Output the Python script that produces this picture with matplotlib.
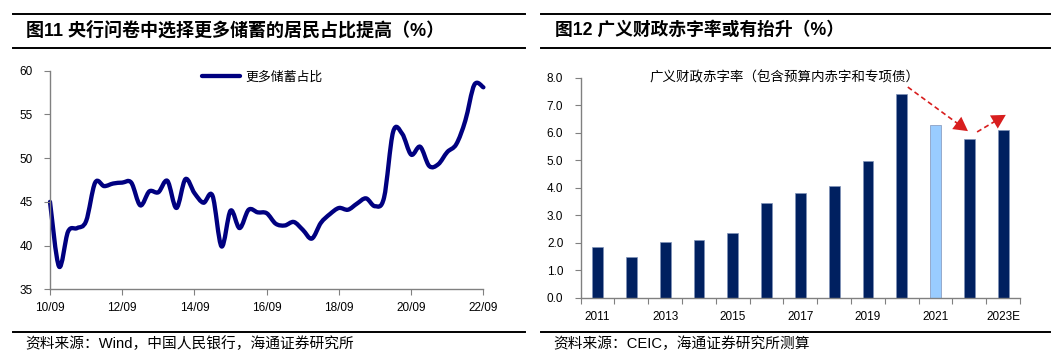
import matplotlib
matplotlib.use("Agg")
import matplotlib.pyplot as plt
import numpy as np
from matplotlib.path import Path
from matplotlib.patches import PathPatch
from matplotlib.lines import Line2D

plt.rcParams['font.family'] = ['Liberation Sans', 'Noto Sans CJK SC', 'DejaVu Sans']

# ---- data: left chart (quarterly, 2010Q3 .. 2022Q3) ----
savings_share = [45.0, 37.6, 41.6, 42.0, 42.8, 47.2, 46.8, 47.1, 47.2, 47.2,
                 44.6, 46.2, 46.1, 47.4, 44.3, 47.6, 46.0, 44.9, 45.7, 39.9,
                 44.0, 42.0, 44.1, 43.8, 43.7, 42.5, 42.3, 42.7, 41.8, 40.8,
                 42.6, 43.6, 44.3, 44.1, 44.8, 45.4, 44.5, 45.5, 53.0, 52.8,
                 50.4, 51.3, 49.1, 49.3, 50.7, 51.6, 54.3, 58.4, 58.1]
left_ticklabels = ['10/09', '12/09', '14/09', '16/09', '18/09', '20/09', '22/09']
left_legend = '更多储蓄占比'

# ---- data: right chart ----
years = ['2011', '2012', '2013', '2014', '2015', '2016', '2017', '2018',
         '2019', '2020', '2021', '2022', '2023E']
deficit = [1.85, 1.48, 2.02, 2.10, 2.35, 3.45, 3.80, 4.05, 4.97, 7.40, 6.30, 5.77, 6.10]
right_note = '广义财政赤字率（包含预算内赤字和专项债）'
# trend arrows (start -> end) in category / value units
arrows = [((9.18, 7.66), (10.96, 6.06)),
          ((11.23, 6.03), (12.08, 6.65))]

W, H = 1060, 361
fig = plt.figure(figsize=(W / 100, H / 100), dpi=100)


def px_axes(x0, y0, x1, y1):
    # pixel box (top-left origin) -> figure axes
    return fig.add_axes([x0 / W, 1 - y1 / H, (x1 - x0) / W, (y1 - y0) / H])


def hline(x0, x1, y):
    fig.add_artist(Line2D([x0 / W, x1 / W], [1 - y / H, 1 - y / H],
                          transform=fig.transFigure, color='black', lw=1.4))


def smooth_path(xs, ys):
    # Excel-style smoothed line: Catmull-Rom segments as cubic Beziers
    pts = np.column_stack([xs, ys]).astype(float)
    n = len(pts)
    verts = [pts[0]]
    codes = [Path.MOVETO]
    for i in range(n - 1):
        p0 = pts[max(i - 1, 0)]
        p1 = pts[i]
        p2 = pts[i + 1]
        p3 = pts[min(i + 2, n - 1)]
        verts += [p1 + (p2 - p0) / 6, p2 - (p3 - p1) / 6, p2]
        codes += [Path.CURVE4] * 3
    return Path(verts, codes)


gray = '#808080'
navy = '#000080'
red = '#D81E1E'

# ---- headers / footers ----
for x0, x1 in [(13, 525), (541, 1050)]:
    hline(x0, x1, 13.7)
    hline(x0, x1, 47.7)
    hline(x0, x1, 331.7)

fig.text(26 / W, 1 - 30 / H, '图11 央行问卷中选择更多储蓄的居民占比提高（%）',
         fontsize=13, fontweight='bold', va='center', ha='left')
fig.text(555 / W, 1 - 30 / H, '图12 广义财政赤字率或有抬升（%）',
         fontsize=12.8, fontweight='bold', va='center', ha='left')
fig.text(25 / W, 1 - 344 / H, '资料来源：Wind，中国人民银行，海通证券研究所',
         fontsize=10.6, va='center', ha='left')
fig.text(553 / W, 1 - 344 / H, '资料来源：CEIC，海通证券研究所测算',
         fontsize=10.6, va='center', ha='left')

# ---- left chart ----
ax1 = px_axes(50, 70.7, 483.4, 289.3)
xq = np.arange(len(savings_share))
patch = PathPatch(smooth_path(xq, savings_share), fill=False, edgecolor=navy,
                  lw=3.1, capstyle='round', joinstyle='round', clip_on=False)
ax1.add_patch(patch)
ax1.set_xlim(0, len(savings_share) - 1)
ax1.set_ylim(35, 60)
ax1.set_yticks(range(35, 61, 5))
ax1.set_xticks(range(0, len(savings_share), 8))
ax1.set_xticklabels(left_ticklabels)
for s in ['top', 'right']:
    ax1.spines[s].set_visible(False)
for s in ['left', 'bottom']:
    ax1.spines[s].set_color(gray)
    ax1.spines[s].set_linewidth(1.0)
ax1.tick_params(axis='y', direction='out', length=4, color=gray, pad=8.5, labelsize=8.5)
ax1.tick_params(axis='x', direction='out', length=4, color=gray, pad=5.5, labelsize=8.5)
handle = Line2D([], [], color=navy, lw=3.1, solid_capstyle='round')
ax1.legend([handle], [left_legend], loc='center left',
           bbox_to_anchor=((201.7 - 50) / 433.4, 1 - 6.6 / 218.6),
           frameon=False, borderpad=0, borderaxespad=0, handlelength=2.95,
           handletextpad=0.4, fontsize=9.3)

# ---- right chart ----
ax2 = px_axes(580.7, 77.7, 1020, 298)
xc = np.arange(len(years))
colors = ['#002060'] * len(years)
colors[years.index('2021')] = '#99CCFF'
ax2.bar(xc, deficit, width=0.32, color=colors, edgecolor='#7F93B8', linewidth=0.5)
ax2.set_xlim(-0.5, len(years) - 0.5)
ax2.set_ylim(0, 8)
ax2.set_yticks(np.arange(0, 8.1, 1))
ax2.set_yticklabels([f'{v:.1f}' for v in np.arange(0, 8.1, 1)])
ax2.set_xticks(np.arange(-0.5, len(years), 1))
ax2.set_xticklabels([])
ax2.set_xticks(xc, minor=True)
ax2.set_xticklabels([y if i % 2 == 0 else '' for i, y in enumerate(years)], minor=True)
for s in ['top', 'right']:
    ax2.spines[s].set_visible(False)
for s in ['left', 'bottom']:
    ax2.spines[s].set_color(gray)
    ax2.spines[s].set_linewidth(1.0)
ax2.tick_params(axis='y', direction='out', length=4, color=gray, pad=8.5, labelsize=8.5)
ax2.tick_params(axis='x', which='major', direction='out', length=4, color=gray)
ax2.tick_params(axis='x', which='minor', length=0, pad=9, labelsize=8.5)

ax2.text(5.54, 8.0, right_note, fontsize=9.7, ha='center', va='center')
for (x0, y0), (x1, y1) in arrows:
    # dashed shaft (stops short of the tip), then a filled solid head
    ax2.plot([x0, x1 - 0.15 * (x1 - x0)], [y0, y1 - 0.15 * (y1 - y0)],
             color=red, lw=1.2, ls=(0, (3, 2)))
    ax2.annotate('', xy=(x1, y1), xytext=(x1 - 0.4 * (x1 - x0), y1 - 0.4 * (y1 - y0)),
                 arrowprops=dict(arrowstyle='-|>,head_length=1.0,head_width=0.55',
                                 fc=red, ec='none', lw=0, mutation_scale=10,
                                 shrinkA=0, shrinkB=0))

fig.savefig('out.png', dpi=100)
